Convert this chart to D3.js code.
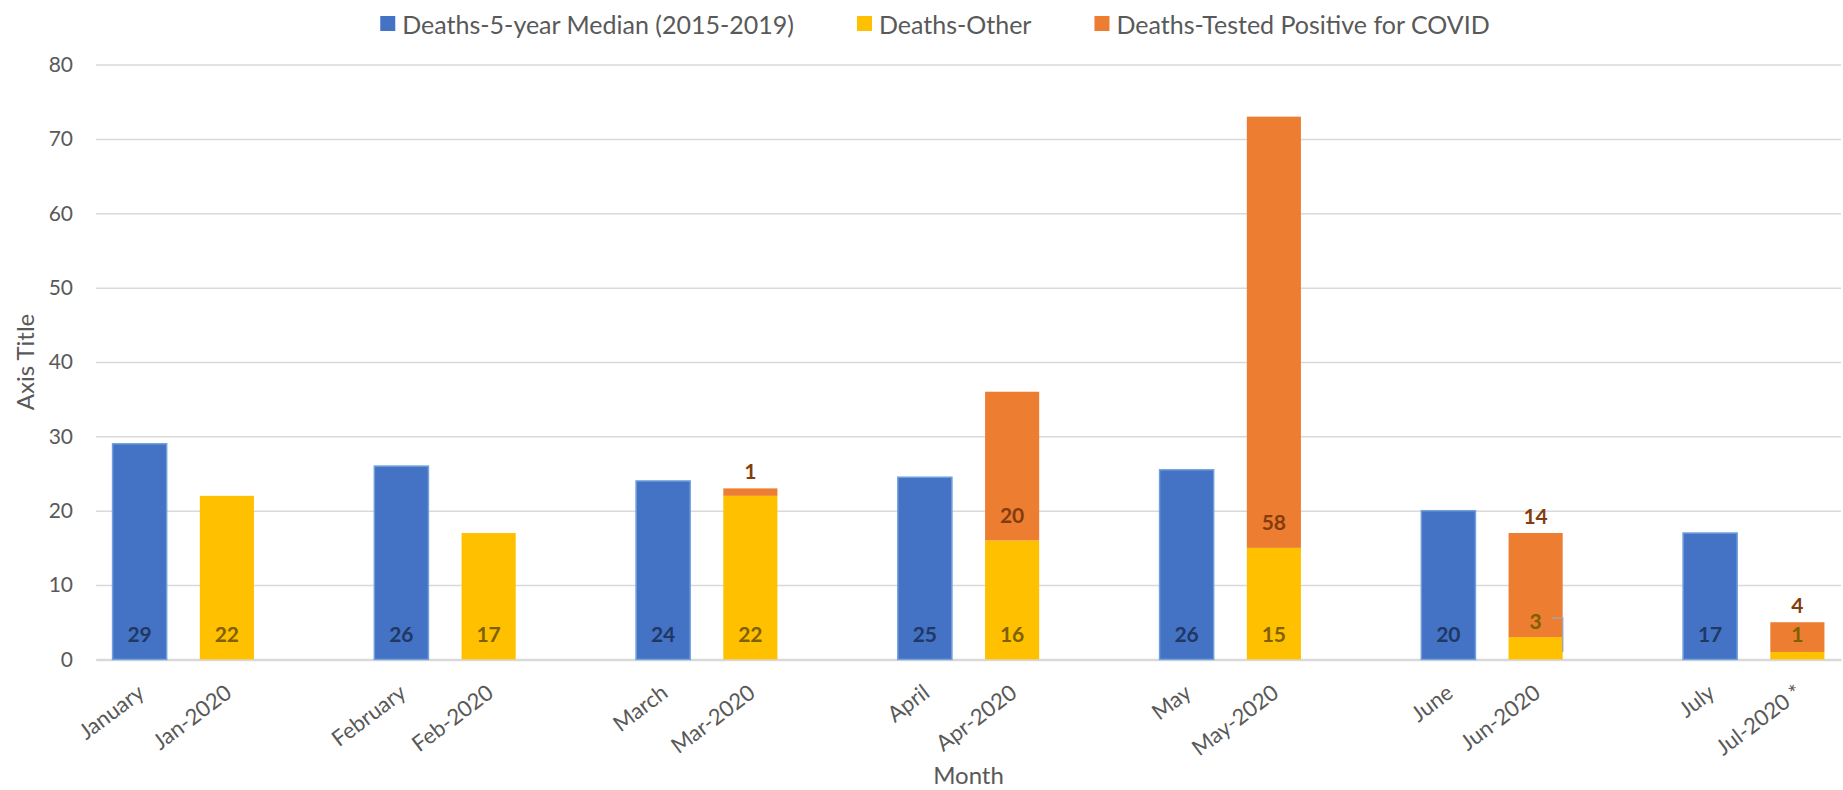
<!DOCTYPE html>
<html>
<head>
<meta charset="utf-8">
<script src="https://cdn.jsdelivr.net/npm/d3@7"></script>
<style>
	body { margin: 0; background: #fff; }
	text { font-family: Lato, 'Open Sans', sans-serif; }
</style>
</head>
<body>
<div id="playground"></div>
<script>
// Data
var months = ['January', 'February', 'March', 'April', 'May', 'June', 'July']
var months2020 = ['Jan-2020', 'Feb-2020', 'Mar-2020', 'Apr-2020', 'May-2020', 'Jun-2020', 'Jul-2020 *']
var median = [29, 26, 24, 24.5, 25.5, 20, 17]
var deathsOther = [22, 17, 22, 16, 15, 3, 1]
var deathsCovid = [0, 0, 1, 20, 58, 14, 4]
var yTicks = [0, 10, 20, 30, 40, 50, 60, 70, 80]
var seriesNames = ['Deaths-5-year Median (2015-2019)', 'Deaths-Other', 'Deaths-Tested Positive for COVID']

// Where each COVID / Other label sits
var covidLabelPlace = ['none', 'none', 'above', 'base', 'base', 'above', 'above']
var otherLabelPlace = ['base', 'base', 'base', 'base', 'base', 'leader', 'base']

var settings = {}
settings.width = 1843
settings.height = 790
settings.margin = {top: 64.6, right: 2, bottom: 130.6, left: 96}
settings.colors = ['#4472C4', '#FFC000', '#ED7D31']
settings.label_colors = ['#203864', '#7F6000', '#843C0C']
settings.text_color = '#595959'
settings.grid_color = '#D9D9D9'
settings.ytick_font_size = 21
settings.xtick_font_size = 22
settings.xtick_angle = -37
settings.label_font_size = 21
settings.legend_font_size = 25
settings.title_font_size = 24
settings.legend_center_x = 935
settings.legend_gap = 63

var svg = d3.select('#playground').append('svg')
	.attr('width', settings.width)
	.attr('height', settings.height)

var m = settings.margin
var plotW = settings.width - m.left - m.right
var plotH = settings.height - m.top - m.bottom

// Category keys: a median bar, a 2020 bar and an empty slot per month
var keys = []
months.forEach(function(mo, i){
	keys.push({key: 'm' + i, label: mo, kind: 'median', i: i})
	keys.push({key: 'y' + i, label: months2020[i], kind: 'y2020', i: i})
	if (i < months.length - 1) keys.push({key: 'g' + i, label: '', kind: 'gap', i: i})
})

var x = d3.scaleBand()
	.domain(keys.map(function(k){ return k.key }))
	.range([m.left, m.left + plotW])
	.paddingInner(0.38)
	.paddingOuter(0.19)

var y = d3.scaleLinear()
	.domain([0, 80])
	.range([m.top + plotH, m.top])

// Gridlines
var yAxis = d3.axisLeft(y).tickValues(yTicks).tickSize(-plotW).tickPadding(23)
var gy = svg.append('g')
	.attr('transform', 'translate(' + m.left + ',0)')
	.call(yAxis)
gy.select('.domain').remove()
gy.selectAll('.tick line')
	.attr('stroke', settings.grid_color)
	.attr('stroke-width', 1.5)
gy.selectAll('.tick text')
	.attr('fill', settings.text_color)
	.attr('font-size', settings.ytick_font_size)
	.style('font-family', 'Lato, sans-serif')

// X axis line
var xAxis = d3.axisBottom(x).tickSize(0).tickFormat(function(k){
	return keys.find(function(d){ return d.key === k }).label
})
var gx = svg.append('g')
	.attr('transform', 'translate(0,' + y(0) + ')')
	.call(xAxis)
gx.select('.domain')
	.attr('stroke', settings.grid_color)
	.attr('stroke-width', 2.5)
gx.selectAll('.tick text')
	.attr('fill', settings.text_color)
	.attr('font-size', settings.xtick_font_size)
	.style('font-family', 'Lato, sans-serif')
	.attr('text-anchor', 'end')
	.attr('y', 0)
	.attr('dy', '0.7em')
	.attr('transform', 'translate(-3,24) rotate(' + settings.xtick_angle + ')')

var bw = x.bandwidth()

// Median bars
svg.append('g').selectAll('rect')
	.data(median)
	.join('rect')
	.attr('x', function(d, i){ return x('m' + i) })
	.attr('y', function(d){ return y(d) })
	.attr('width', bw)
	.attr('height', function(d){ return y(0) - y(d) })
	.attr('fill', settings.colors[0])
	.attr('stroke', '#6FA0DC')
	.attr('stroke-width', 1.5)

// Stacked 2020 bars
svg.append('g').selectAll('rect')
	.data(deathsOther)
	.join('rect')
	.attr('x', function(d, i){ return x('y' + i) })
	.attr('y', function(d){ return y(d) })
	.attr('width', bw)
	.attr('height', function(d){ return y(0) - y(d) })
	.attr('fill', settings.colors[1])

svg.append('g').selectAll('rect')
	.data(deathsCovid)
	.join('rect')
	.attr('x', function(d, i){ return x('y' + i) })
	.attr('y', function(d, i){ return y(deathsOther[i] + d) })
	.attr('width', bw)
	.attr('height', function(d, i){ return y(deathsOther[i]) - y(deathsOther[i] + d) })
	.attr('fill', settings.colors[2])

// Data labels
function label(px, py, txt, color) {
	return svg.append('text')
		.attr('x', px)
		.attr('y', py)
		.attr('text-anchor', 'middle')
		.attr('dominant-baseline', 'central')
		.attr('font-size', settings.label_font_size)
		.attr('font-weight', 'bold')
		.attr('fill', color)
		.text(txt)
}
var fmt = d3.format('.0f')
var baseOffset = 26
var aboveOffset = 18

median.forEach(function(v, i){
	label(x('m' + i) + bw / 2, y(0) - baseOffset, fmt(Math.round(v)), settings.label_colors[0])
})

deathsOther.forEach(function(v, i){
	var cx = x('y' + i) + bw / 2
	if (otherLabelPlace[i] === 'base') {
		label(cx, y(0) - baseOffset, fmt(v), settings.label_colors[1])
	} else if (otherLabelPlace[i] === 'leader') {
		var ly = y(v) - 17
		label(cx, ly, fmt(v), settings.label_colors[1])
		var lp = d3.path()
		lp.moveTo(cx + 16, ly - 2)
		lp.lineTo(x('y' + i) + bw, ly - 2)
		lp.lineTo(x('y' + i) + bw, y(v / 3))
		svg.append('path')
			.attr('d', lp.toString())
			.attr('fill', 'none')
			.attr('stroke', '#A5A5A5')
			.attr('stroke-width', 1.5)
	}
})

deathsCovid.forEach(function(v, i){
	var cx = x('y' + i) + bw / 2
	if (covidLabelPlace[i] === 'above') {
		label(cx, y(deathsOther[i] + v) - aboveOffset, fmt(v), settings.label_colors[2])
	} else if (covidLabelPlace[i] === 'base') {
		label(cx, y(deathsOther[i]) - baseOffset, fmt(v), settings.label_colors[2])
	}
})

// Axis titles
svg.append('text')
	.attr('transform', 'translate(24,' + (m.top + plotH / 2) + ') rotate(-90)')
	.attr('text-anchor', 'middle')
	.attr('dominant-baseline', 'central')
	.attr('font-size', settings.title_font_size)
	.attr('fill', settings.text_color)
	.text('Axis Title')

svg.append('text')
	.attr('x', m.left + plotW / 2)
	.attr('y', 774)
	.attr('text-anchor', 'middle')
	.attr('dominant-baseline', 'central')
	.attr('font-size', settings.title_font_size)
	.attr('fill', settings.text_color)
	.text('Month')

// Legend
var legend = svg.append('g')
var lx = 0
seriesNames.forEach(function(name, i){
	legend.append('rect')
		.attr('x', lx)
		.attr('y', -8)
		.attr('width', 15)
		.attr('height', 15)
		.attr('fill', settings.colors[i])
	var t = legend.append('text')
		.attr('x', lx + 22)
		.attr('y', 0)
		.attr('dominant-baseline', 'central')
		.attr('font-size', settings.legend_font_size)
		.attr('fill', settings.text_color)
		.text(name)
	lx += 22 + t.node().getComputedTextLength() + settings.legend_gap
})
var legendW = lx - settings.legend_gap
legend.attr('transform', 'translate(' + (settings.legend_center_x - legendW / 2) + ',24)')
</script>
</body>
</html>
